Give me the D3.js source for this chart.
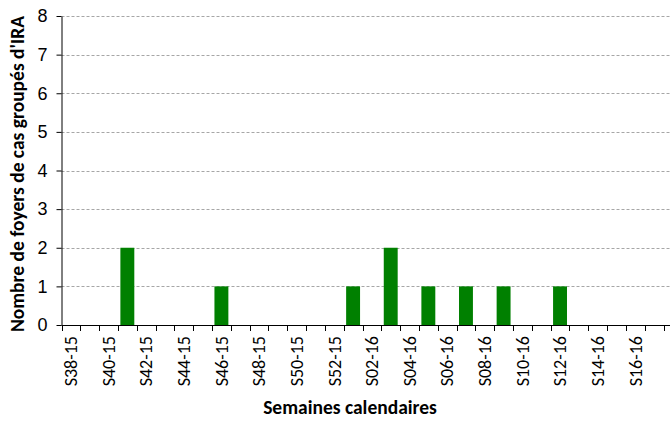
<!DOCTYPE html>
<html>
<head>
    <meta charset="utf-8">
    <script src="https://cdn.jsdelivr.net/npm/d3@7"></script>
    <style>
        body { margin: 0; background: #fff; }
        svg { font-family: Carlito, Calibri, Lato, sans-serif; }
        line.grid { stroke: #a6a6a6; stroke-dasharray: 3,2; }
        rect.bar { fill: #008000; }
        .axis text { fill: #000; }
        .axis line, .axis path { stroke: #000; }
        text.title { font-weight: bold; fill: #000; }
    </style>
</head>
<body>
<div id="chart"></div>
<script>

    var weeks = ["S38-15", "S39-15", "S40-15", "S41-15", "S42-15", "S43-15", "S44-15", "S45-15",
        "S46-15", "S47-15", "S48-15", "S49-15", "S50-15", "S51-15", "S52-15",
        "S01-16", "S02-16", "S03-16", "S04-16", "S05-16", "S06-16", "S07-16", "S08-16",
        "S09-16", "S10-16", "S11-16", "S12-16", "S13-16", "S14-16", "S15-16", "S16-16", "S17-16"];
    var foyers = [0, 0, 0, 2, 0, 0, 0, 0,
        1, 0, 0, 0, 0, 0, 0,
        1, 0, 2, 0, 1, 0, 1, 0,
        1, 0, 0, 1, 0, 0, 0, 0, 0];
    var yTicks = [0, 1, 2, 3, 4, 5, 6, 7, 8];

    var width = 670, height = 421;
    var margin = {left: 61.5, right: 663.5, bottom: 325, top: 16};

    var svg = d3.select("#chart").append("svg")
        .attr("width", width)
        .attr("height", height);

    var x = d3.scaleBand()
        .domain(weeks)
        .range([margin.left, margin.right])
        .paddingInner(0.26)
        .paddingOuter(0.13);

    var y = d3.scaleLinear()
        .domain([0, 8])
        .range([margin.bottom, margin.top]);

    // gridlines
    svg.append("g").selectAll("line.grid")
        .data(yTicks.filter(function (d) { return d > 0; }))
        .enter().append("line")
        .attr("class", "grid")
        .attr("x1", margin.left)
        .attr("x2", width)
        .attr("y1", function (d) { return Math.round(y(d)) + 0.5; })
        .attr("y2", function (d) { return Math.round(y(d)) + 0.5; });

    // bars
    svg.append("g").selectAll("rect.bar")
        .data(weeks.map(function (w, i) { return {week: w, value: foyers[i]}; })
            .filter(function (d) { return d.value > 0; }))
        .enter().append("rect")
        .attr("class", "bar")
        .attr("x", function (d) { return x(d.week); })
        .attr("width", x.bandwidth())
        .attr("y", function (d) { return y(d.value); })
        .attr("height", function (d) { return y(0) - y(d.value); });

    // y axis
    var yAxis = svg.append("g")
        .attr("class", "axis")
        .attr("transform", "translate(" + margin.left + ",0)")
        .call(d3.axisLeft(y).tickValues(yTicks).tickSize(5).tickPadding(9).tickSizeOuter(0));
    yAxis.selectAll("text").style("font-size", "18px");

    // x axis: labels every other week, ticks on band boundaries
    var step = x.step();
    var xAxis = svg.append("g")
        .attr("class", "axis")
        .attr("transform", "translate(0," + margin.bottom + ")");
    xAxis.append("line")
        .attr("x1", margin.left).attr("x2", width)
        .attr("y1", 0.5).attr("y2", 0.5);
    xAxis.selectAll("line.tick")
        .data(weeks.concat(["end"]))
        .enter().append("line")
        .attr("class", "tick")
        .attr("x1", function (d, i) { return Math.round(margin.left + i * step) + 0.5; })
        .attr("x2", function (d, i) { return Math.round(margin.left + i * step) + 0.5; })
        .attr("y1", 0).attr("y2", 6);
    xAxis.selectAll("text")
        .data(weeks.filter(function (d, i) { return i % 2 === 0; }))
        .enter().append("text")
        .attr("transform", function (d) {
            return "translate(" + (x(d) + x.bandwidth() / 2) + ",11) rotate(-90)";
        })
        .attr("dy", "0.35em")
        .attr("text-anchor", "end")
        .style("font-size", "18px")
        .text(function (d) { return d; });

    // titles
    svg.append("text")
        .attr("class", "title")
        .attr("x", 350)
        .attr("y", 414)
        .attr("text-anchor", "middle")
        .style("font-size", "19.5px")
        .text("Semaines calendaires");

    svg.append("text")
        .attr("class", "title")
        .attr("transform", "translate(24," + 174 + ") rotate(-90)")
        .attr("text-anchor", "middle")
        .style("font-size", "19.5px")
        .text("Nombre de foyers de cas groupés d'IRA");

</script>
</body>
</html>
